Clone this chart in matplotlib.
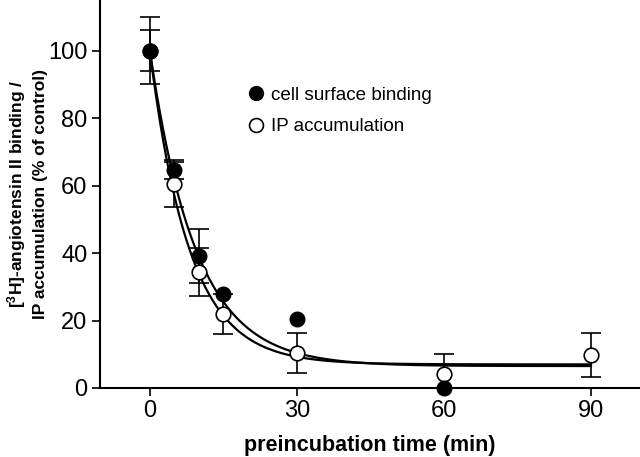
import matplotlib
matplotlib.use('Agg')
import matplotlib.pyplot as plt
from matplotlib.lines import Line2D
import numpy as np

plt.rcParams['font.family'] = ['Liberation Sans', 'DejaVu Sans']

# cell surface binding (filled)
t_bind = [0, 5, 10, 15, 30, 60]
y_bind = [100, 64.5, 39, 28, 20.5, 0]
e_bind = [6, 2.5, 8, 0, 0, 0]

# IP accumulation (open)
t_ip = [0, 5, 10, 15, 30, 60, 90]
y_ip = [100, 60.5, 34.4, 22, 10.3, 4, 9.8]
e_ip = [10, 7, 7, 6, 6, 6, 6.5]

# one-phase decay fit parameters: plateau, k (1/min)
fit_bind = (6.5, 0.106)
fit_ip = (7.0, 0.124)

fig = plt.figure(figsize=(6.4, 4.57), dpi=100)
ax = fig.add_axes([0.156, 0.151, 0.844, 0.849])

tt = np.linspace(0, 90, 400)
for plateau, k in (fit_bind, fit_ip):
    ax.plot(tt, plateau + (100 - plateau) * np.exp(-k * tt), color='black', lw=1.6, zorder=2)


def bars(t, y, e):
    t, y, e = np.array(t), np.array(y), np.array(e)
    m = e > 0
    ax.errorbar(t[m], y[m], yerr=e[m], fmt='none', ecolor='black', elinewidth=1.2,
                capsize=7, capthick=1.2, zorder=3)


bars(t_ip, y_ip, e_ip)
bars(t_bind, y_bind, e_bind)
ax.plot(t_ip, y_ip, 'o', ms=10.5, mfc='white', mec='black', mew=1.2, zorder=4, clip_on=False)
ax.plot(t_bind, y_bind, 'o', ms=10.5, mfc='black', mec='black', zorder=5, clip_on=False)

ax.set_xlim(-10.2, 100)
ax.set_ylim(0, 115)
ax.set_xticks([0, 30, 60, 90])
ax.set_yticks([0, 20, 40, 60, 80, 100])
ax.tick_params(labelsize=17, length=6, width=1.2, direction='out', pad=3)
for s in ('top', 'right'):
    ax.spines[s].set_visible(False)
for s in ('left', 'bottom'):
    ax.spines[s].set_linewidth(1.5)

ax.set_xlabel('preincubation time (min)', fontsize=15.5, fontweight='bold', labelpad=9)
ax.set_ylabel('[$\\mathregular{^{3}}$H]-angiotensin II binding /\nIP accumulation (% of control)',
              fontsize=12.5, fontweight='bold', linespacing=1.45)
ax.yaxis.set_label_coords(-0.096, 0.5)

handles = [Line2D([], [], marker='o', ls='none', ms=10, mfc='black', mec='black'),
           Line2D([], [], marker='o', ls='none', ms=10, mfc='white', mec='black', mew=1.2)]
ax.legend(handles, ['cell surface binding', 'IP accumulation'], loc='upper left',
          bbox_to_anchor=(0.24, 0.82), frameon=False, fontsize=13.6,
          handletextpad=0.3, labelspacing=0.75, handlelength=1.0)

fig.savefig('out.png', dpi=100)
